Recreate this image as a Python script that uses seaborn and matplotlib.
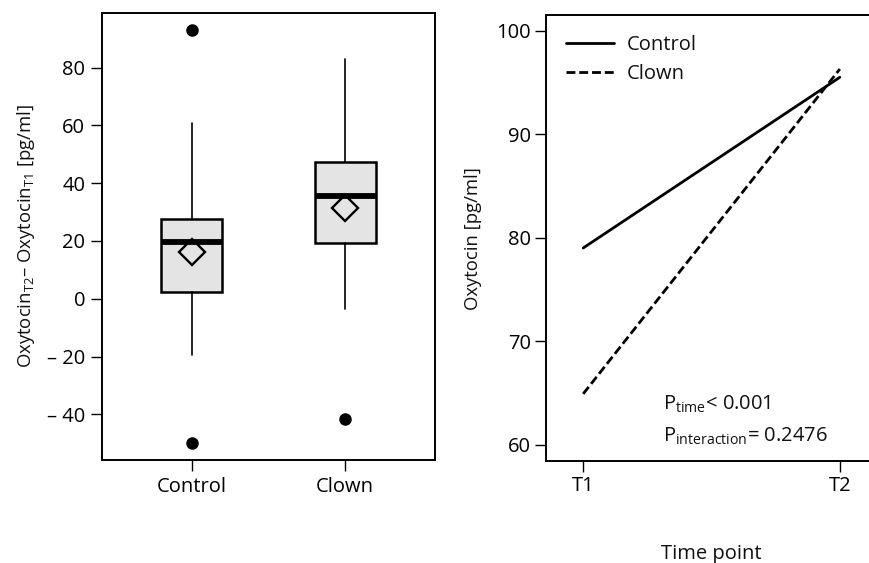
import matplotlib
matplotlib.use("Agg")
import matplotlib.pyplot as plt
import seaborn as sns
import pandas as pd

# ---- data: left panel (difference T2 - T1) ----
groups = ["Control", "Clown"]
q1 = [2.2, 19.2]
q3 = [27.6, 47.2]
medians = [19.5, 35.5]
means = [16.2, 31.3]
whisker_lo = [-19.5, -3.7]
whisker_hi = [60.7, 83.1]
outliers = [[92.9, -50.0], [-41.7]]
left_yticks = [-40, -20, 0, 20, 40, 60, 80]
left_yticklabels = ["\u2013 40", "\u2013 20", "0", "20", "40", "60", "80"]

# ---- data: right panel (means over time) ----
timepoints = ["T1", "T2"]
control_vals = [79.0, 95.5]
clown_vals = [64.9, 96.3]
right_yticks = [60, 70, 80, 90, 100]

sns.set_style("ticks")
plt.rcParams["font.family"] = ["Open Sans", "DejaVu Sans"]
plt.rcParams["mathtext.fontset"] = "custom"
plt.rcParams["mathtext.rm"] = "Open Sans"
plt.rcParams["mathtext.it"] = "Open Sans"
plt.rcParams["axes.edgecolor"] = "black"
plt.rcParams["xtick.color"] = "black"
plt.rcParams["ytick.color"] = "black"
plt.rcParams["text.color"] = "#111111"
plt.rcParams["axes.labelcolor"] = "#111111"

FS = 14.5
LFS = 13.3
fig = plt.figure(figsize=(8.69, 5.63), dpi=100)
ax1 = fig.add_axes([0.1174, 0.183, 0.3832, 0.794])
ax2 = fig.add_axes([0.6283, 0.181, 0.381, 0.792])

# ---- left: box plot from summary stats ----
stats = []
for i, g in enumerate(groups):
    stats.append(dict(label=g, q1=q1[i], q3=q3[i], med=medians[i], mean=means[i],
                      whislo=whisker_lo[i], whishi=whisker_hi[i], fliers=outliers[i]))
ax1.bxp(stats, positions=[0, 1], widths=0.40, patch_artist=True, showmeans=True,
        showcaps=False, showfliers=True,
        boxprops=dict(facecolor="#e4e4e4", edgecolor="black", linewidth=1.8),
        medianprops=dict(color="black", linewidth=4.2, solid_capstyle="butt"),
        whiskerprops=dict(color="black", linewidth=1.2),
        meanprops=dict(marker="D", markersize=13.5, markerfacecolor="none",
                       markeredgecolor="black", markeredgewidth=1.7),
        flierprops=dict(marker="o", markersize=8, markerfacecolor="black",
                        markeredgecolor="black"))
ax1.set_xlim(-0.585, 1.585)
ax1.set_ylim(-55.8, 98.9)
ax1.set_xticks([0, 1])
ax1.set_xticklabels(groups, fontsize=FS)
ax1.set_yticks(left_yticks)
ax1.set_yticklabels(left_yticklabels, fontsize=FS)
ax1.set_ylabel("Oxytocin$_{\\mathrm{T2}}$\u2013 Oxytocin$_{\\mathrm{T1}}$ [pg/ml]",
               fontsize=LFS, labelpad=7)
ax1.tick_params(axis="both", length=8, width=1.0, pad=4)

# ---- right: line plot ----
df = pd.DataFrame({
    "Time point": timepoints * 2,
    "Oxytocin": control_vals + clown_vals,
    "Group": ["Control"] * 2 + ["Clown"] * 2,
})
df["x"] = df["Time point"].map({t: i for i, t in enumerate(timepoints)})
sns.lineplot(data=df, x="x", y="Oxytocin", style="Group", color="black",
             dashes={"Control": "", "Clown": (3.2, 1.4)}, linewidth=2.0,
             ax=ax2, legend=True)
ax2.set_xlim(-0.145, 1.145)
ax2.set_ylim(58.4, 101.5)
ax2.set_xticks([0, 1])
ax2.set_xticklabels(timepoints, fontsize=FS)
ax2.set_yticks(right_yticks)
ax2.set_yticklabels([str(v) for v in right_yticks], fontsize=FS)
ax2.set_xlabel("Time point", fontsize=FS, labelpad=34)
ax2.set_ylabel("Oxytocin [pg/ml]", fontsize=LFS, labelpad=10)
ax2.tick_params(axis="both", length=8, width=1.0, pad=3)
leg = ax2.legend(loc="upper left", frameon=False, fontsize=FS, handlelength=2.4,
                 bbox_to_anchor=(0.0, 1.0), borderaxespad=0.6, labelspacing=0.45,
                 handletextpad=0.6)
for l in leg.get_lines():
    l.set_linewidth(2.0)
ax2.text(0.352, 0.128, "P$_{\\mathrm{time}}$< 0.001", transform=ax2.transAxes,
         fontsize=FS, va="center", ha="left")
ax2.text(0.352, 0.056, "P$_{\\mathrm{interaction}}$= 0.2476", transform=ax2.transAxes,
         fontsize=FS, va="center", ha="left")

for ax in (ax1, ax2):
    for s in ax.spines.values():
        s.set_visible(True)
        s.set_linewidth(1.4)

fig.savefig("out.png", dpi=100)
